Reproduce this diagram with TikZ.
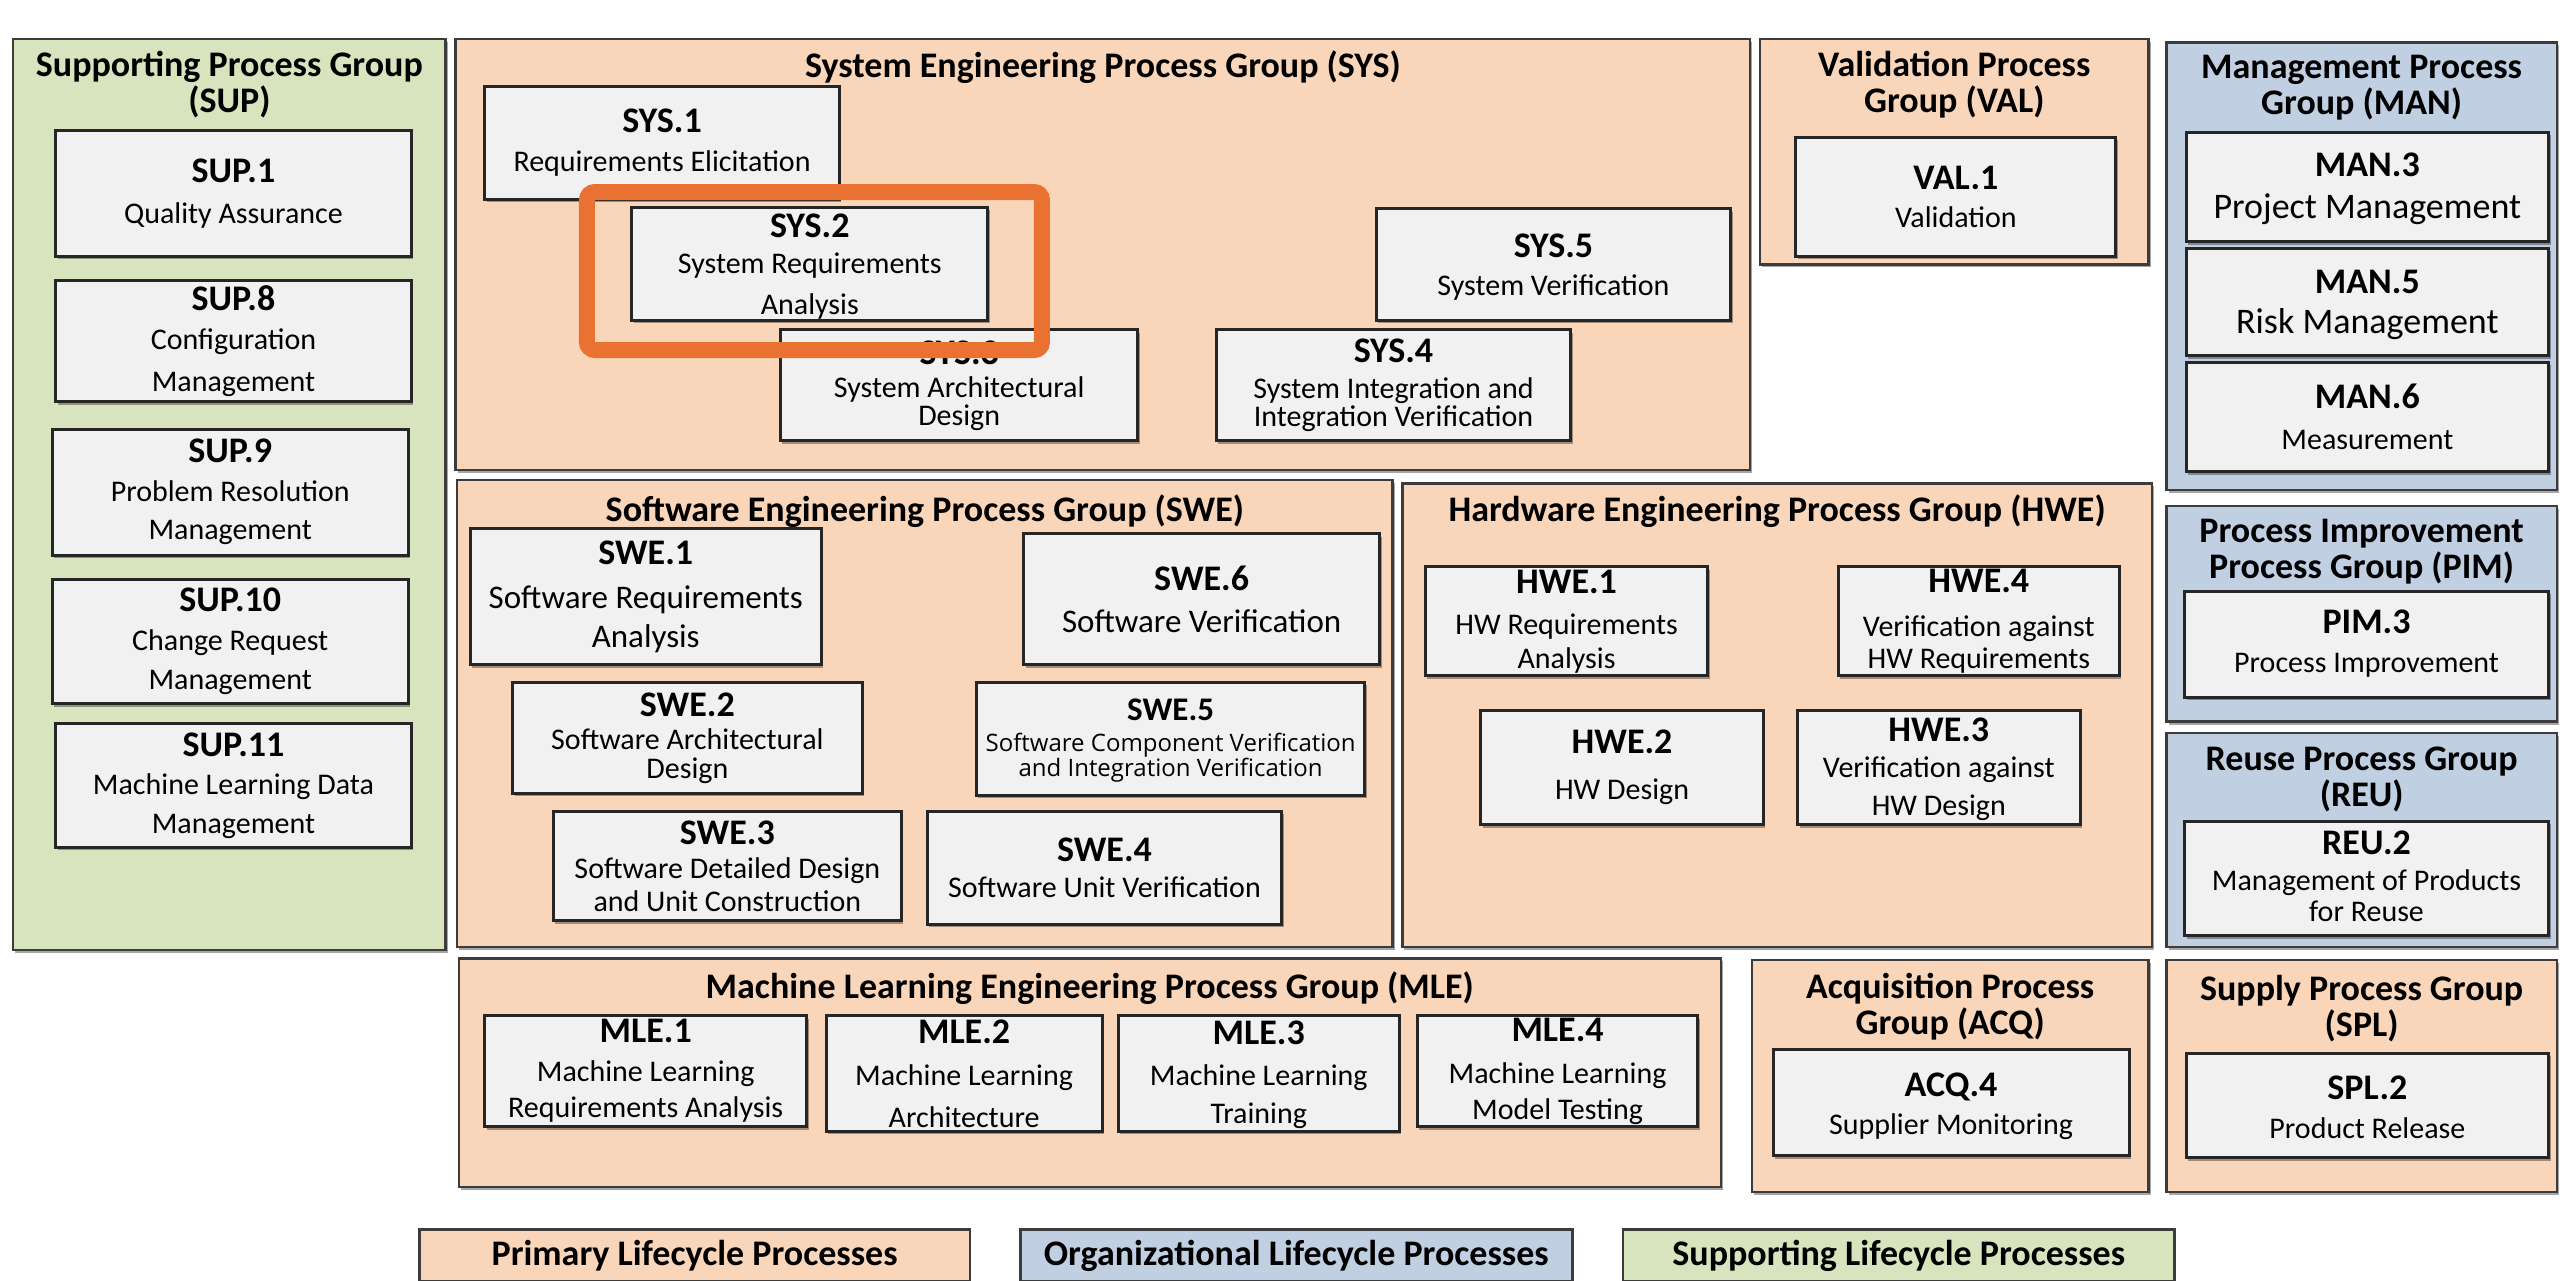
\documentclass[tikz,border=0pt]{standalone}
\usepackage{fontspec}
\setmainfont{Carlito}
\newfontfamily\osans{Open Sans}
\usetikzlibrary{fit,shadows}

\definecolor{peach}{RGB}{249,214,186}
\definecolor{bluegrp}{RGB}{193,207,226}
\definecolor{greengrp}{RGB}{215,228,189}
\definecolor{boxfill}{RGB}{241,241,241}
\definecolor{hlorange}{RGB}{233,113,50}
\definecolor{edgegray}{RGB}{60,60,60}

\newcommand\idf{\fontsize{36}{38}\selectfont\bfseries}
\newcommand\ttlf{\fontsize{36}{36}\selectfont\bfseries}

\tikzset{
  grp/.style={draw=edgegray, line width=2.5pt, inner sep=0pt,
    drop shadow={shadow xshift=2pt, shadow yshift=-3pt, opacity=0.35, fill=black}},
  bx/.style={draw=black!85, line width=3pt, fill=boxfill, inner sep=0pt,
    drop shadow={shadow xshift=2pt, shadow yshift=-3pt, opacity=0.35, fill=black}},
  txt/.style={align=center, inner sep=0pt, font=\fontsize{30}{38}\selectfont},
  ttl/.style={align=center, inner sep=0pt, font=\ttlf},
  hl/.style={draw=hlorange, line width=16pt, rounded corners=8pt, inner sep=0pt},
  lg/.style={draw=edgegray, line width=2.5pt, inner sep=0pt},
}

\newcommand\grpbox[4]{\node[grp, fill=#2, fit={#3 #4}] (#1) {};}
\newcommand\procbox[6][0]{%
  \node[bx, fit={#3 #4}] (#2) {};
  \node[txt, #6, shift={(0,#1)}] (#2t) at (#2.center) {#5};
}

\begin{document}
\begin{tikzpicture}[x=1.6327pt, y=-1.6327pt]
\useasboundingbox[fill=white] (0,0) rectangle (1568,784.6);

% groups
\grpbox{SUP}{greengrp}{(8,24)}{(273,582)}
\grpbox{SYS}{peach}{(279,24)}{(1072,288)}
\grpbox{VAL}{peach}{(1078,24)}{(1316,162)}
\grpbox{MAN}{bluegrp}{(1327,26)}{(1566,300)}
\grpbox{SWE}{peach}{(280,294)}{(853,580)}
\grpbox{HWE}{peach}{(859,296)}{(1318,580)}
\grpbox{PIM}{bluegrp}{(1327,310)}{(1566,442)}
\grpbox{REU}{bluegrp}{(1327,449)}{(1566,580)}
\grpbox{MLE}{peach}{(281,587)}{(1054,727)}
\grpbox{ACQ}{peach}{(1073,588)}{(1316,730)}
\grpbox{SPL}{peach}{(1327,588)}{(1566,730)}

% titles
\node[ttl] (SUPt) at (140.5,52) {Supporting Process Group\\(SUP)};
\node[ttl] (SYSt) at (675.5,41) {System Engineering Process Group (SYS)};
\node[ttl] (VALt) at (1197,52) {Validation Process\\Group (VAL)};
\node[ttl] (MANt) at (1446.5,53.5) {Management Process\\Group (MAN)};
\node[ttl] (SWEt) at (566.5,313) {Software Engineering Process Group (SWE)};
\node[ttl] (HWEt) at (1088.5,313) {Hardware Engineering Process Group (HWE)};
\node[ttl] (PIMt) at (1446.5,338) {Process Improvement\\Process Group (PIM)};
\node[ttl] (REUt) at (1446.5,477.5) {Reuse Process Group\\(REU)};
\node[ttl] (MLEt) at (667.5,605) {Machine Learning Engineering Process Group (MLE)};
\node[ttl] (ACQt) at (1194.5,616.5) {Acquisition Process\\Group (ACQ)};
\node[ttl] (SPLt) at (1446.5,617.5) {Supply Process Group\\(SPL)};

% SUP
\procbox{sup1}{(34,80)}{(252,157)}{{\idf SUP.1}\\[3pt]Quality Assurance}{}
\procbox{sup8}{(34,172)}{(252,246)}{{\idf SUP.8}\\[1pt]Configuration\\[4pt]Management}{}
\procbox{sup9}{(32,263)}{(250,340)}{{\idf SUP.9}\\[1pt]Problem Resolution\\Management}{}
\procbox{sup10}{(32,355)}{(250,431)}{{\idf SUP.10}\\[1pt]Change Request\\[1pt]Management}{}
\procbox{sup11}{(34,443)}{(252,519)}{{\idf SUP.11}\\Machine Learning Data\\[1pt]Management}{}

% SYS
\procbox{sys1}{(297,53)}{(514,122)}{{\idf SYS.1}\\[1pt]Requirements Elicitation}{}
\procbox[2]{sys2}{(387,127)}{(605,196)}{{\idf SYS.2}\\[-2pt]System Requirements\\[3pt]Analysis}{}
\procbox{sys3}{(478,202)}{(697,270)}{{\idf SYS.3}\\[-5pt]System Architectural\\[-10pt]Design}{}
\procbox{sys4}{(745,202)}{(962,270)}{{\idf SYS.4}\\[-2pt]System Integration and\\[-10pt]Integration Verification}{}
\procbox[1.5]{sys5}{(843,128)}{(1060,196)}{{\idf SYS.5}\\System Verification}{}

% VAL
\procbox{val1}{(1100,84)}{(1296,157)}{{\idf VAL.1}\\Validation}{}

% MAN
\procbox[1]{man3}{(1339,81)}{(1561,148)}{{\idf MAN.3}\\[4pt]Project Management}{font=\fontsize{36}{38}\selectfont}
\procbox[1.5]{man5}{(1339,152)}{(1561,218)}{{\idf MAN.5}\\[2pt]Risk Management}{font=\fontsize{36}{38}\selectfont}
\procbox{man6}{(1339,222)}{(1561,289)}{{\idf MAN.6}\\[3pt]Measurement}{}

% SWE
\procbox{swe1}{(288,324)}{(503,407)}{{\idf SWE.1}\\[6pt]Software Requirements\\[1pt]Analysis}{font=\fontsize{33}{38}\selectfont}
\procbox{swe2}{(314,418)}{(528,486)}{{\idf SWE.2}\\[-5pt]Software Architectural\\[-9pt]Design}{}
\procbox{swe3}{(339,497)}{(552,564)}{{\idf SWE.3}\\[-4pt]Software Detailed Design\\[-5pt]and Unit Construction}{}
\procbox{swe4}{(568,497)}{(785,566)}{{\idf SWE.4}\\[-2pt]Software Unit Verification}{}
\procbox[1]{swe5}{(598,418)}{(836,487)}{{\fontsize{33}{38}\selectfont\bfseries SWE.5}\\[6pt]{\osans Software Component Verification}\\[-0.5pt]{\osans and Integration Verification}}{font=\fontsize{24}{25}\selectfont}
\procbox{swe6}{(627,327)}{(845,407)}{{\idf SWE.6}\\[4pt]Software Verification}{font=\fontsize{33}{38}\selectfont}

% HWE
\procbox{hwe1}{(873,347)}{(1046,414)}{{\idf HWE.1}\\[3pt]HW Requirements\\[-4pt]Analysis}{}
\procbox{hwe4}{(1126,347)}{(1298,414)}{{\idf HWE.4}\\[6pt]Verification against\\[-5pt]HW Requirements}{}
\procbox{hwe2}{(907,435)}{(1080,505)}{{\idf HWE.2}\\[8pt]HW Design}{}
\procbox[1]{hwe3}{(1101,435)}{(1274,505)}{{\idf HWE.3}\\[-2pt]Verification against\\HW Design}{}

% PIM, REU
\procbox{pim3}{(1338,362)}{(1561,427)}{{\idf PIM.3}\\[1pt]Process Improvement}{}
\procbox[-1]{reu2}{(1338,503)}{(1561,573)}{{\idf REU.2}\\[-2pt]Management of Products\\[-7pt]for Reuse}{}

% MLE
\procbox{mle1}{(297,622)}{(494,690)}{{\idf MLE.1}\\[1pt]Machine Learning\\[-2pt]Requirements Analysis}{}
\procbox{mle2}{(506,622)}{(675,693)}{{\idf MLE.2}\\[4pt]Machine Learning\\[4pt]Architecture}{}
\procbox[1]{mle3}{(685,622)}{(857,693)}{{\idf MLE.3}\\[3pt]Machine Learning\\Training}{}
\procbox{mle4}{(868,622)}{(1040,690)}{{\idf MLE.4}\\[4pt]Machine Learning\\[-2pt]Model Testing}{}

% ACQ, SPL
\procbox[2]{acq4}{(1086,643)}{(1304,708)}{{\idf ACQ.4}\\Supplier Monitoring}{}
\procbox[1]{spl2}{(1339,645)}{(1561,709)}{{\idf SPL.2}\\[1pt]Product Release}{}

% highlight
\node[hl, fit={(359.5,117.6) (638.2,214.4)}] (focus) {};

% legend
\node[lg, fill=peach, fit={(257,753) (594,785)}] (lgp) {};
\node[ttl] (lgpt) at (lgp.center) {Primary Lifecycle Processes};
\node[lg, fill=bluegrp, fit={(625,753) (963,785)}] (lgo) {};
\node[ttl] (lgot) at (lgo.center) {Organizational Lifecycle Processes};
\node[lg, fill=greengrp, fit={(994,753) (1332,785)}] (lgs) {};
\node[ttl] (lgst) at (lgs.center) {Supporting Lifecycle Processes};
\end{tikzpicture}
\end{document}
